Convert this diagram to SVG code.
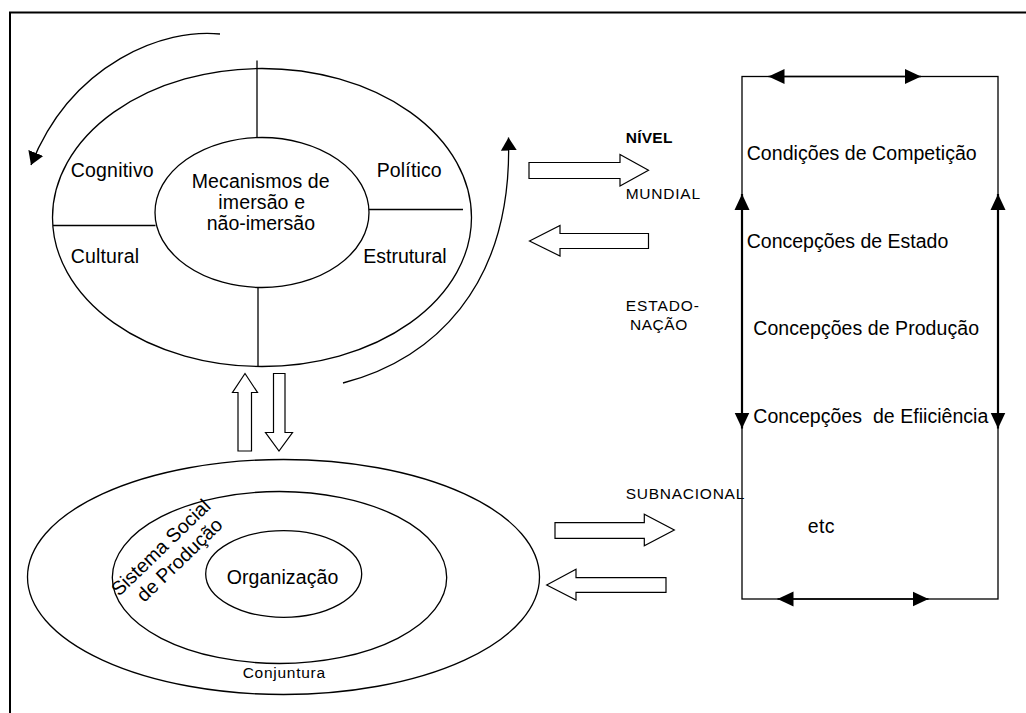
<svg xmlns="http://www.w3.org/2000/svg" width="1026" height="713" viewBox="0 0 1026 713">
  <style>
    .ln { fill: none; stroke: #000; stroke-width: 1.3; }
    .shape { fill: #fff; stroke: #000; stroke-width: 1.3; }
    .blk { fill: #fff; stroke: #000; stroke-width: 1.2; stroke-linejoin: miter; }
    .thick { fill: none; stroke: #000; stroke-width: 2.2; }
    text { font-family: "Liberation Sans", Arial, sans-serif; fill: #000; }
    .lbl { font-size: 19.5px; }
    .lvl { font-size: 15.5px; }
    .bold { font-weight: bold; }
  </style>
  <defs>
    <marker id="headCurve" markerUnits="userSpaceOnUse" markerWidth="14" markerHeight="18" viewBox="0 -9 14 18" refX="13" refY="0" orient="auto">
      <path d="M0,-8 L13,0 L0,8 z" fill="#000"/>
    </marker>
    <marker id="headBox" markerUnits="userSpaceOnUse" markerWidth="17" markerHeight="17" viewBox="0 -8.5 17 17" refX="16" refY="0" orient="auto-start-reverse">
      <path d="M0,-7.5 L16,0 L0,7.5 z" fill="#000"/>
    </marker>
  </defs>

  <rect width="1026" height="713" fill="#fff"/>

  <!-- page frame (top and left rules) -->
  <path d="M10,713 V12.5 H1026" fill="none" stroke="#000" stroke-width="2"/>

  <!-- outer ring with the four dimensions -->
  <g id="ring-dimensions">
    <ellipse class="shape" cx="262" cy="217.5" rx="209.5" ry="149"/>
    <line class="ln" x1="257" y1="60.5" x2="257" y2="138"/>
    <line class="ln" x1="258" y1="287" x2="258" y2="366.5"/>
    <line class="ln" x1="53" y1="225.5" x2="155.5" y2="225.5"/>
    <line class="ln" x1="369" y1="209.5" x2="463" y2="209.5"/>
    <text class="lbl" x="70.7" y="176.7" textLength="83" lengthAdjust="spacing">Cognitivo</text>
    <text class="lbl" x="376.7" y="176.7" textLength="65" lengthAdjust="spacing">Político</text>
    <text class="lbl" x="70.7" y="263.3" textLength="68.3" lengthAdjust="spacing">Cultural</text>
    <text class="lbl" x="363.3" y="263.3" textLength="83.3" lengthAdjust="spacing">Estrutural</text>
  </g>

  <!-- central mechanisms -->
  <g id="mechanisms">
    <ellipse class="shape" cx="262" cy="212.5" rx="107" ry="75"/>
    <text class="lbl" x="191.7" y="187.7" textLength="138" lengthAdjust="spacing">Mecanismos de</text>
    <text class="lbl" x="218.3" y="208.5" textLength="86.7" lengthAdjust="spacing">imersão e</text>
    <text class="lbl" x="206.7" y="230" textLength="108.3" lengthAdjust="spacing">não-imersão</text>
  </g>

  <!-- concentric context: conjuntura / sistema social / organizacao -->
  <g id="conjuntura">
    <ellipse class="shape" cx="283.5" cy="577" rx="256" ry="117.5"/>
    <text class="lvl" x="242.7" y="678.3" textLength="82.3" lengthAdjust="spacing">Conjuntura</text>
  </g>
  <g id="sistema-social">
    <ellipse class="shape" cx="279.5" cy="577.5" rx="167.2" ry="86"/>
    <g transform="translate(119,597) rotate(-44)">
      <text class="lbl" x="0" y="0">Sistema Social</text>
      <text class="lbl" x="14" y="22">de Produção</text>
    </g>
  </g>
  <g id="organizacao">
    <ellipse class="shape" cx="283.7" cy="574" rx="78" ry="43.3"/>
    <text class="lbl" x="226.7" y="584" textLength="111.6" lengthAdjust="spacing">Organização</text>
  </g>

  <!-- level labels -->
  <g id="levels">
    <text class="lvl bold" x="625.7" y="143.3" textLength="46.7" lengthAdjust="spacing">NÍVEL</text>
    <text class="lvl" x="625.7" y="199.3" textLength="74.3" lengthAdjust="spacing">MUNDIAL</text>
    <text class="lvl" x="625.7" y="310.7" textLength="73.3" lengthAdjust="spacing">ESTADO-</text>
    <text class="lvl" x="630" y="330" textLength="57.3" lengthAdjust="spacing">NAÇÃO</text>
    <text class="lvl" x="625.7" y="499" textLength="118.6" lengthAdjust="spacing">SUBNACIONAL</text>
  </g>

  <!-- box of conceptions -->
  <g id="conceptions">
    <rect class="ln" x="742" y="76.5" width="256" height="522.5"/>
    <text class="lbl" x="746.7" y="160" textLength="230" lengthAdjust="spacing">Condições de Competição</text>
    <text class="lbl" x="746.7" y="248.3" textLength="201.6" lengthAdjust="spacing">Concepções de Estado</text>
    <text class="lbl" x="753.3" y="335" textLength="225.7" lengthAdjust="spacing">Concepções de Produção</text>
    <text class="lbl" x="753.3" y="422.7" textLength="235" lengthAdjust="spacing" xml:space="preserve">Concepções  de Efiiciência</text>
    <text class="lbl" x="807.7" y="532.7" textLength="26.7" lengthAdjust="spacing">etc</text>
  </g>

  <!-- connectors -->
  <g id="connectors">
    <!-- rotation arrows around the ring -->
    <path class="ln" d="M220,34 C165,28 72,62 31,165" marker-end="url(#headCurve)"/>
    <path class="ln" d="M343,383 C430,360 513,290 508.5,137.5" marker-end="url(#headCurve)"/>

    <!-- vertical block arrows between ring and context -->
    <polygon class="blk" points="245,373.5 257.5,392.5 251.5,392.5 251.5,451 238,451 238,392.5 232.5,392.5"/>
    <polygon class="blk" points="273.5,373.5 285,373.5 285,432.5 292.5,432.5 279,451 265.5,432.5 273.5,432.5"/>

    <!-- horizontal block arrows, world level -->
    <polygon class="blk" points="529,162.5 620,162.5 620,154.5 648.5,170.3 620,186 620,178.5 529,178.5"/>
    <polygon class="blk" points="529.5,241 560,225.5 560,233.5 648.5,233.5 648.5,248.5 560,248.5 560,256"/>

    <!-- horizontal block arrows, subnational level -->
    <polygon class="blk" points="555,522.7 644.3,522.7 644.3,514.3 674.3,530 644.3,545.7 644.3,538.3 555,538.3"/>
    <polygon class="blk" points="546.7,585 576,569.3 576,577.7 666,577.7 666,592.3 576,592.3 576,600"/>

    <!-- arrows on the conceptions box -->
    <line class="ln" x1="768.5" y1="76.5" x2="921" y2="76.5" marker-start="url(#headBox)" marker-end="url(#headBox)"/>
    <line class="ln" x1="777.5" y1="599" x2="928.5" y2="599" marker-start="url(#headBox)" marker-end="url(#headBox)"/>
    <line class="thick" x1="742" y1="194" x2="742" y2="428.5" marker-start="url(#headBox)" marker-end="url(#headBox)"/>
    <line class="thick" x1="998" y1="194" x2="998" y2="428.5" marker-start="url(#headBox)" marker-end="url(#headBox)"/>
  </g>
</svg>
